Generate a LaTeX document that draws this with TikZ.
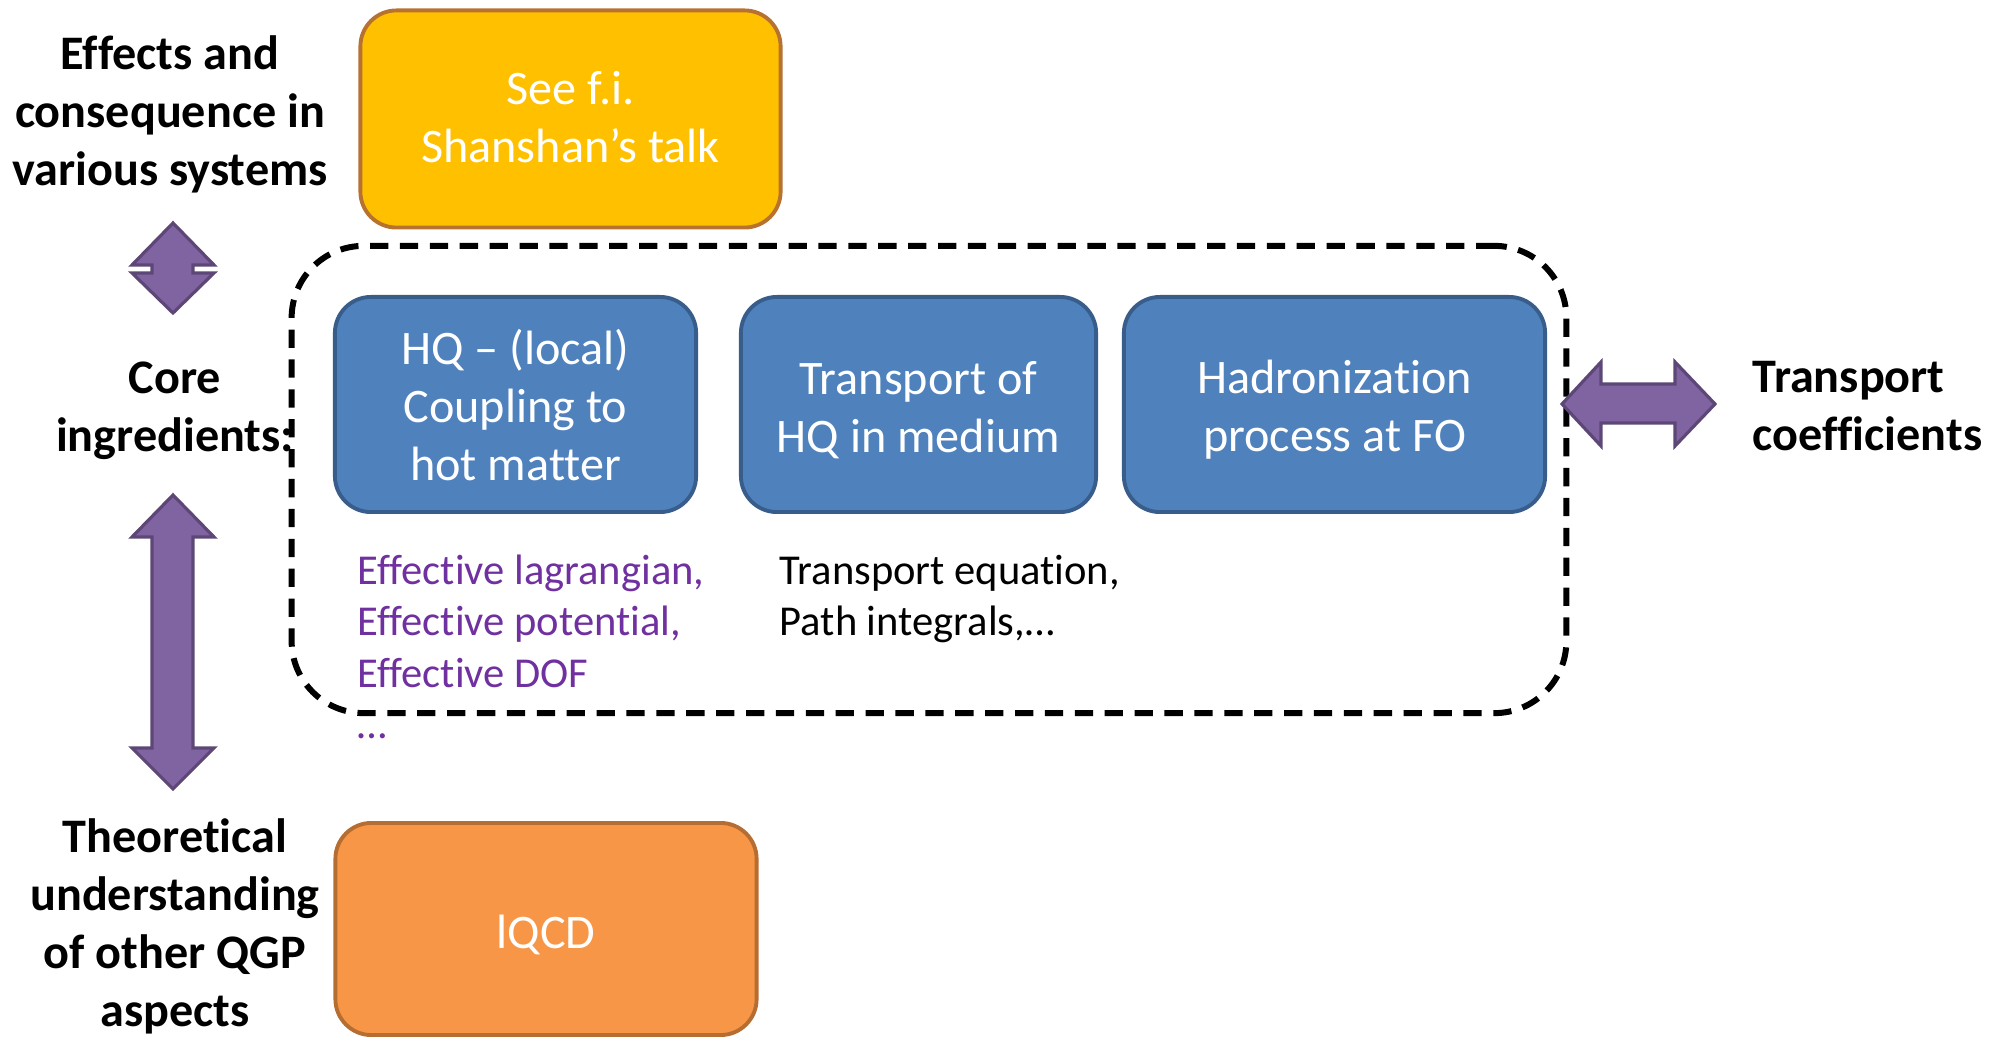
\documentclass[tikz,border=0pt]{standalone}
\usepackage{fontspec}
\setmainfont{Carlito}[Ligatures=NoCommon]
\definecolor{bluefill}{HTML}{4F81BD}
\definecolor{blueline}{HTML}{385D8A}
\definecolor{goldfill}{HTML}{FFC000}
\definecolor{goldline}{HTML}{B7722F}
\definecolor{orangefill}{HTML}{F79646}
\definecolor{orangeline}{HTML}{B66D31}
\definecolor{arrowfill}{HTML}{8064A2}
\definecolor{arrowline}{HTML}{5C4776}
\definecolor{effpurple}{HTML}{7030A0}
\begin{document}
\begin{tikzpicture}[x=0.01cm,y=-0.01cm,
  box/.style={rectangle, rounded corners=0.36cm, line width=1.1pt, inner sep=0pt},
  bluebox/.style={box, fill=bluefill, draw=blueline, minimum height=2.15cm},
  goldbox/.style={box, fill=goldfill, draw=goldline},
  orangebox/.style={box, fill=orangefill, draw=orangeline},
  boxtext/.style={text=white, align=center, inner sep=0pt, font=\fontsize{13.7pt}{16.5pt}\selectfont},
  lbl/.style={align=center, inner sep=0pt, font=\fontsize{13.7pt}{16.5pt}\selectfont\bfseries},
  note/.style={align=left, inner sep=0pt, anchor=west, font=\fontsize{12.1pt}{14.6pt}\selectfont},
  container/.style={rectangle, draw=black, line width=1.7pt, dash pattern=on 5.2pt off 3.3pt,
    rounded corners=0.72cm, minimum width=12.74cm, minimum height=4.67cm, inner sep=0pt},
  blockarrow/.style={fill=arrowfill, draw=arrowline, line width=0.9pt, line join=miter}
]
\useasboundingbox (0,0) rectangle (2006,1037);

% container
\node[container] (core box) at (929,479.5) {};

% boxes
\node[goldbox, minimum width=4.20cm, minimum height=2.17cm] (see) at (570.5,119) {};
\node[boxtext] (see text) at (570.5,117) {See f.i.\\Shanshan’s talk};
\node[bluebox, minimum width=3.61cm] (hq) at (515.5,404.5) {};
\node[boxtext] (hq text) at (515.5,405) {HQ – (local)\\Coupling to\\hot matter};
\node[bluebox, minimum width=3.55cm] (transport) at (918.5,404.5) {};
\node[boxtext] (transport text) at (918.5,410) {Transport of\\HQ in medium};
\node[bluebox, minimum width=4.21cm] (hadron) at (1334.5,404.5) {};
\node[boxtext] (hadron text) at (1334.5,410) {Hadronization\\process at FO};
\node[orangebox, minimum width=4.21cm, minimum height=2.12cm] (lqcd) at (546,929) {};
\node[boxtext] (lqcd text) at (546,935) {lQCD};

% left labels
\node[lbl] (effects) at (170,114) {Effects and\\consequence in\\various systems};
\node[lbl] (core) at (175,411) {Core\\ingredients:};
\node[lbl] (theo) at (175,926) {Theoretical\\understanding\\of other QGP\\aspects};
\node[lbl, align=left, anchor=west] (coeff) at (1752,406) {Transport\\coefficients};

% notes
\node[note, text=effpurple] (eff) at (357,647) {Effective lagrangian,\\Effective potential,\\Effective DOF\\…};
\node[note] (teq) at (779,599) {Transport equation,\\Path integrals,…};

% block arrows
\draw[blockarrow] (173,223) -- (214,265) -- (193,265) -- (193,273) -- (214,273) -- (173,313)
  -- (132,273) -- (152,273) -- (152,265) -- (132,265) -- cycle;
\draw[blockarrow] (173,495) -- (214,537) -- (193,537) -- (193,748) -- (214,748) -- (173,789)
  -- (132,748) -- (152,748) -- (152,537) -- (132,537) -- cycle;
\draw[blockarrow] (1562,404) -- (1601,362) -- (1601,384) -- (1675,384) -- (1675,362) -- (1715,404)
  -- (1675,446) -- (1675,423) -- (1601,423) -- (1601,446) -- cycle;
\end{tikzpicture}
\end{document}
